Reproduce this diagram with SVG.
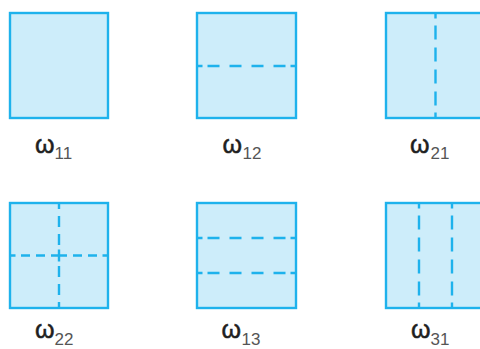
<svg xmlns="http://www.w3.org/2000/svg" width="480" height="349" viewBox="0 0 480 349">
  <style>
    .cell { fill: #cdedfa; stroke: #1eb2ec; stroke-width: 2.4; }
    .cut { stroke: #1eb2ec; stroke-width: 2.4; fill: none; }
    .h99 { stroke-dasharray: 5.5 5 12 10 12 10 12 10 12 5 5.5; }
    .v105 { stroke-dasharray: 5.5 7 14 8 14 8 14 8 14 7 5.5; }
    .hx { stroke-dasharray: 5.5 5.5 9 6 9 6 16 6 9 6 9 5.5 5.5; }
    .vx { stroke-dasharray: 6 7 11 7 11 4.5 12 4.5 11 7 11 7 6; }
    .lbl { font-family: "Liberation Sans", Arial, sans-serif; }
    .w { font-size: 25px; fill: #1f1f1f; stroke: #1f1f1f; stroke-width: 0.5; }
    .s { font-size: 17px; fill: #555555; }
  </style>

  <!-- ω11: undivided square -->
  <g id="w11">
    <rect class="cell" x="10" y="13" width="98" height="105"/>
    <text class="lbl"><tspan class="w" x="35" y="153">ω</tspan><tspan class="s" x="54.5" y="159">11</tspan></text>
  </g>

  <!-- ω12: split into two rows -->
  <g id="w12">
    <rect class="cell" x="197" y="13" width="99" height="105"/>
    <line class="cut h99" x1="197" y1="66" x2="296" y2="66"/>
    <text class="lbl"><tspan class="w" x="222.5" y="153">ω</tspan><tspan class="s" x="242.5" y="159">12</tspan></text>
  </g>

  <!-- ω21: split into two columns -->
  <g id="w21">
    <rect class="cell" x="386" y="13" width="99" height="105"/>
    <line class="cut v105" x1="435.5" y1="13" x2="435.5" y2="118"/>
    <text class="lbl"><tspan class="w" x="410" y="153">ω</tspan><tspan class="s" x="430.5" y="159">21</tspan></text>
  </g>

  <!-- ω22: split into quarters -->
  <g id="w22">
    <rect class="cell" x="10" y="203" width="98" height="105"/>
    <line class="cut hx" x1="10" y1="255.5" x2="108" y2="255.5"/>
    <line class="cut vx" x1="59" y1="203" x2="59" y2="308"/>
    <text class="lbl"><tspan class="w" x="35" y="338">ω</tspan><tspan class="s" x="54.5" y="345">22</tspan></text>
  </g>

  <!-- ω13: split into three rows -->
  <g id="w13">
    <rect class="cell" x="197" y="203" width="99" height="105"/>
    <line class="cut h99" x1="197" y1="238" x2="296" y2="238"/>
    <line class="cut h99" x1="197" y1="273" x2="296" y2="273"/>
    <text class="lbl"><tspan class="w" x="221.5" y="338">ω</tspan><tspan class="s" x="241.5" y="345">13</tspan></text>
  </g>

  <!-- ω31: split into three columns -->
  <g id="w31">
    <rect class="cell" x="386" y="203" width="99" height="105"/>
    <line class="cut v105" x1="419" y1="203" x2="419" y2="308"/>
    <line class="cut v105" x1="452" y1="203" x2="452" y2="308"/>
    <text class="lbl"><tspan class="w" x="411" y="338">ω</tspan><tspan class="s" x="430.5" y="345">31</tspan></text>
  </g>

  <g id="connectors"/>
</svg>
